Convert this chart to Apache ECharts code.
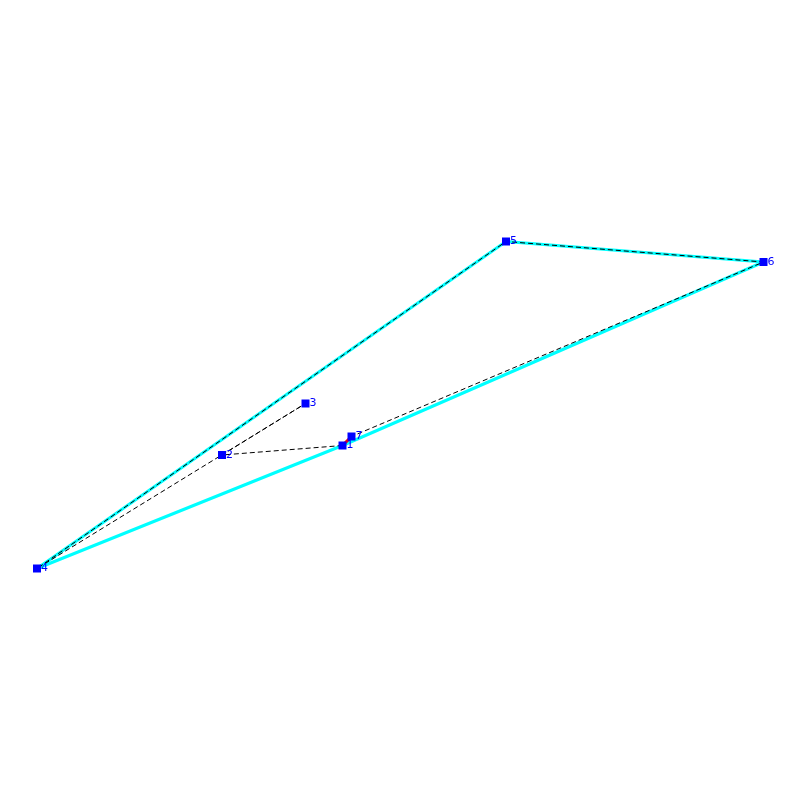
<!DOCTYPE html>
<html>
<head>
<meta charset="utf-8">
<style>html,body{margin:0;padding:0;background:#fff}#c{width:800px;height:800px}</style>
<script src="https://cdn.jsdelivr.net/npm/echarts@6/dist/echarts.min.js"></script>
</head>
<body>
<div id="c"></div>
<script>
const pointLabels = ["1","2","3","4","5","6","7"];
const xValues = [342.5, 222, 305.5, 37, 506, 763.5, 351.5];
const yValues = [445.5, 455, 403.5, 568.5, 241.5, 262, 436.5];
const tourOrder = [0,1,2,3,4,5,6];
const hullOrder = [0,3,4,5,0];
const redOrder = [0,6];

const pt = i => [xValues[i], yValues[i]];
const hidden = {show:false};
const chart = echarts.init(document.getElementById('c'), null, {renderer:'canvas'});
chart.setOption({
  animation:false,
  backgroundColor:'#ffffff',
  grid:{left:0,right:0,top:0,bottom:0},
  xAxis:{type:'value',min:0,max:800,show:false,splitLine:hidden},
  yAxis:{type:'value',min:0,max:800,inverse:true,show:false,splitLine:hidden},
  series:[
    {type:'line',name:'hull',data:hullOrder.map(pt),symbol:'none',z:2,
     lineStyle:{color:'#00ffff',width:3}},
    {type:'line',name:'tour',data:tourOrder.map(pt),symbol:'none',z:3,
     lineStyle:{color:'#000000',width:1,type:[5,3]}},
    {type:'line',name:'red',data:redOrder.map(pt),symbol:'none',z:4,
     lineStyle:{color:'#ff0000',width:3}},
    {type:'scatter',name:'points',z:5,symbol:'rect',symbolSize:8,
     data:pointLabels.map((n,i)=>({name:n,value:pt(i)})),
     itemStyle:{color:'#0000ff',opacity:1},
     label:{show:true,position:'right',distance:0,formatter:p=>p.name,
       color:'#0000ff',fontSize:11,fontFamily:'DejaVu Sans'}}
  ]
});
</script>
</body>
</html>
